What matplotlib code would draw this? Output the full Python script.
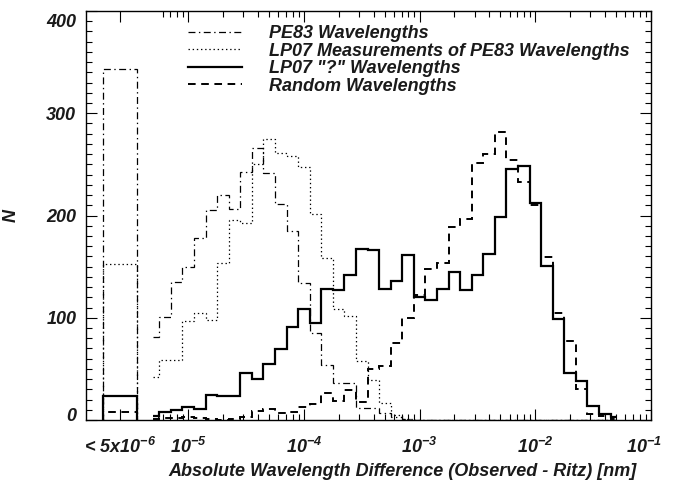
import numpy as np
import matplotlib
matplotlib.use("Agg")
from matplotlib import pyplot as plt
from matplotlib.ticker import NullFormatter
from matplotlib.transforms import ScaledTranslation

# log10 of the bin centres (0.1 dex bins)
log_centres = [-5.3, -5.2, -5.1, -5.0, -4.9, -4.8, -4.7, -4.6, -4.5, -4.4,
               -4.3, -4.2, -4.1, -4.0, -3.9, -3.8, -3.7, -3.6, -3.5, -3.4,
               -3.3, -3.2, -3.1, -3.0, -2.9, -2.8, -2.7, -2.6, -2.5, -2.4,
               -2.3, -2.2, -2.1, -2.0, -1.9, -1.8, -1.7, -1.6, -1.5, -1.4,
               -1.3]

pe83 = [81, 101, 135, 150, 178, 205, 220, 206, 243, 266,
        242, 211, 185, 134, 85, 54, 36, 36, 12, 12,
        7, 3, 1, 0, 0, 0, 0, 0, 0, 0,
        0, 0, 0, 0, 0, 0, 0, 0, 0, 0, 0]
lp07_meas = [42, 59, 59, 97, 105, 98, 154, 196, 193, 250,
             275, 261, 258, 247, 201, 158, 109, 102, 58, 39,
             17, 5, 1, 0, 0, 0, 0, 0, 0, 0,
             0, 0, 0, 0, 0, 0, 0, 0, 0, 0, 0]
lp07_q = [4, 8, 10, 13, 11, 24, 23, 23, 46, 40,
          55, 69, 91, 109, 95, 128, 127, 142, 167, 166,
          128, 136, 161, 120, 117, 128, 145, 127, 142, 162,
          199, 245, 248, 212, 151, 99, 46, 38, 14, 6, 3]
random_wl = [1, 2, 2, 3, 2, 1, 0, 1, 3, 9,
             11, 7, 8, 13, 16, 26, 19, 29, 18, 50,
             53, 75, 100, 122, 148, 154, 189, 197, 251, 260,
             282, 254, 233, 210, 159, 105, 77, 30, 6, 4, 1]

# "< 5x10^-6" overflow bin, one value per series
overflow = {"pe83": 343, "meas": 153, "q": 23, "rand": 8}
ovf_lo, ovf_hi = -5.739, -5.445

labels = ["PE83 Wavelengths",
          "LP07 Measurements of PE83 Wavelengths",
          'LP07 "?" Wavelengths',
          "Random Wavelengths"]

plt.rcParams["font.family"] = "Liberation Sans"
plt.rcParams["font.weight"] = "bold"
plt.rcParams["font.style"] = "italic"
plt.rcParams["axes.labelweight"] = "bold"
plt.rcParams["mathtext.fontset"] = "custom"
plt.rcParams["mathtext.rm"] = "Liberation Sans:bold:italic"
plt.rcParams["mathtext.it"] = "Liberation Sans:bold:italic"
plt.rcParams["mathtext.bf"] = "Liberation Sans:bold:italic"
plt.rcParams["lines.scale_dashes"] = False
txt = "#1a1a1a"
fs = 13

fig, ax = plt.subplots(figsize=(6.8, 4.82), dpi=100)
fig.subplots_adjust(left=86 / 680, right=651 / 680, bottom=1 - 420 / 482, top=1 - 11 / 482)

c = np.array(log_centres)
edges = 10 ** np.concatenate([[c[0]], (c[:-1] + c[1:]) / 2, [c[-1]]])
ovf_edges = [10 ** ovf_lo, 10 ** ovf_hi]

styles = [
    ("pe83", pe83, dict(lw=0.9, ls=(0, (5, 2.5, 1, 2.5)))),
    ("meas", lp07_meas, dict(lw=0.9, ls=(0, (1, 2)))),
    ("q", lp07_q, dict(lw=1.6, ls="-")),
    ("rand", random_wl, dict(lw=1.4, ls=(0, (5.5, 4)))),
]
handles = []
for (key, vals, st), lab in zip(styles, labels):
    h = ax.stairs(vals, edges, baseline=None, color="black", label=lab, **st)
    ax.stairs([overflow[key]], ovf_edges, baseline=0, color="black", **st)
    handles.append(h)

ax.set_xscale("log")
ax.set_xlim(10 ** -5.883, 1e-1)
ax.set_ylim(0, 400)

ovf_pos = 10 ** ((ovf_lo + ovf_hi) / 2)
ax.set_xticks([ovf_pos, 1e-5, 1e-4, 1e-3, 1e-2, 1e-1],
              ["< 5x$10^{-6}$", "$10^{-5}$", "$10^{-4}$", "$10^{-3}$", "$10^{-2}$", "$10^{-1}$"])
minor = [k * 10.0 ** e for e in range(-6, -1) for k in range(2, 10) if k * 10.0 ** e >= 5e-6]
ax.set_xticks(minor, minor=True)
ax.xaxis.set_minor_formatter(NullFormatter())
ax.set_yticks([0, 100, 200, 300, 400])
ax.set_yticks(range(0, 401, 10), minor=True)

ax.tick_params(which="both", direction="in", top=True, right=True, colors="black",
               labelcolor=txt, labelsize=fs, width=0.8)
ax.tick_params(which="major", length=8)
ax.tick_params(which="minor", length=4)
ax.tick_params(axis="x", pad=12)
ax.tick_params(axis="y", pad=7)
for s in ax.spines.values():
    s.set_linewidth(1.0)

ax.set_xlabel("Absolute Wavelength Difference (Observed - Ritz) [nm]", fontsize=fs, color=txt)
ax.xaxis.set_label_coords((402 - 86) / 565, (420 - 463) / 409)
ax.set_ylabel("N", fontsize=fs, color=txt)
ax.yaxis.set_label_coords((20 - 86) / 565, 0.5)

# nudge end labels inside, like the original
yl = ax.get_yticklabels()
yl[0].set_transform(yl[0].get_transform() + ScaledTranslation(0, 4 / 72, fig.dpi_scale_trans))
yl[-1].set_transform(yl[-1].get_transform() + ScaledTranslation(0, -7 / 72, fig.dpi_scale_trans))
xl = ax.get_xticklabels()
xl[-1].set_transform(xl[-1].get_transform() + ScaledTranslation(-5 / 72, 0, fig.dpi_scale_trans))

ax.legend(handles=handles, loc="upper left",
          bbox_to_anchor=((188 - 86) / 565, (420 - 25) / 409),
          frameon=False, fontsize=fs, handlelength=3.0, handletextpad=1.5,
          labelspacing=0.03, borderpad=0, borderaxespad=0, labelcolor=txt)

fig.savefig("out.png", dpi=100)
